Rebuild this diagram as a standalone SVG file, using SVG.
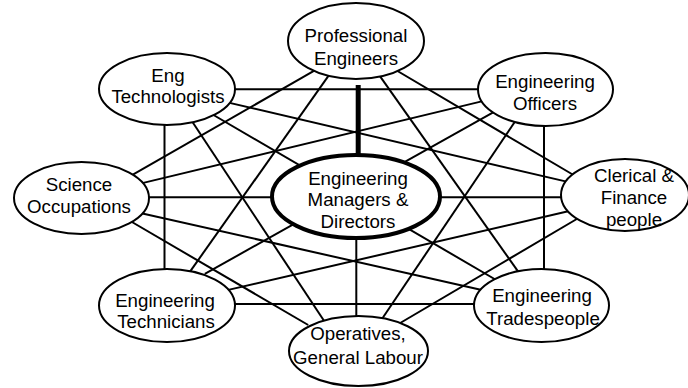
<svg xmlns="http://www.w3.org/2000/svg" width="688" height="388" viewBox="0 0 688 388">
<style>
.edge line{stroke:#000;stroke-width:2;fill:none}
.edge line.thick{stroke-width:5}
.node ellipse{fill:#fff;stroke:#000;stroke-width:2}
#center ellipse{stroke-width:4}
text{font-family:"Liberation Sans",Arial,sans-serif;font-size:18.7px;text-anchor:middle;fill:#000}
</style>
<rect width="688" height="388" fill="#fff"/>
<g id="connectors" class="edge">
<line x1="395.8" y1="70" x2="576.9" y2="177"/>
<line x1="378.5" y1="74.1" x2="520.5" y2="274.9"/>
<line x1="356.3" y1="238" x2="356.3" y2="320"/>
<line class="thick" x1="358.2" y1="85" x2="358.2" y2="156"/>
<line x1="330.2" y1="73.4" x2="186.5" y2="276.6"/>
<line x1="315.2" y1="70.2" x2="129.8" y2="176.3"/>
<line x1="544" y1="122" x2="544" y2="273"/>
<line x1="517.4" y1="118" x2="380.6" y2="321"/>
<line x1="497.2" y1="110.1" x2="204.8" y2="273.9"/>
<line x1="484.8" y1="100.6" x2="141.2" y2="183.4"/>
<line x1="230" y1="89.3" x2="483" y2="89.3"/>
<line x1="580.2" y1="217" x2="396.8" y2="325"/>
<line x1="572.5" y1="210.3" x2="226.2" y2="290.4"/>
<line x1="144" y1="197.3" x2="567" y2="197.3"/>
<line x1="224.2" y1="101.6" x2="569.8" y2="182.4"/>
<line x1="230" y1="304" x2="478" y2="304"/>
<line x1="139.1" y1="212.7" x2="482.9" y2="290.3"/>
<line x1="211.8" y1="114" x2="496.2" y2="280"/>
<line x1="126.8" y1="219" x2="308.2" y2="325"/>
<line x1="190" y1="118.3" x2="325" y2="322.3"/>
<line x1="164.5" y1="120" x2="164.5" y2="274"/>
</g>
<g id="professional-engineers" class="node">
<ellipse cx="356" cy="41" rx="68" ry="38"/>
<text x="356" y="42">Professional</text>
<text x="356" y="65">Engineers</text>
</g>
<g id="engineering-officers" class="node">
<ellipse cx="545.5" cy="89.5" rx="67.5" ry="36.5"/>
<text x="545" y="88">Engineering</text>
<text x="545" y="110">Officers</text>
</g>
<g id="clerical-finance" class="node">
<ellipse cx="625" cy="195" rx="64" ry="36"/>
<text x="634" y="182">Clerical &amp;</text>
<text x="634" y="204">Finance</text>
<text x="634" y="225.5">people</text>
</g>
<g id="engineering-tradespeople" class="node">
<ellipse cx="541.5" cy="305.5" rx="67.5" ry="36.5"/>
<text x="542" y="302">Engineering</text>
<text x="543" y="325">Tradespeople</text>
</g>
<g id="operatives" class="node">
<ellipse cx="358.5" cy="351" rx="69.5" ry="35"/>
<text x="358" y="340">Operatives,</text>
<text x="358" y="364">General Labour</text>
</g>
<g id="engineering-technicians" class="node">
<ellipse cx="167" cy="305.5" rx="68" ry="36.5"/>
<text x="165" y="307">Engineering</text>
<text x="166" y="328">Technicians</text>
</g>
<g id="science-occupations" class="node">
<ellipse cx="81.5" cy="198" rx="67.5" ry="36"/>
<text x="79" y="191">Science</text>
<text x="79" y="213">Occupations</text>
</g>
<g id="eng-technologists" class="node">
<ellipse cx="167" cy="89" rx="68" ry="36"/>
<text x="168" y="82">Eng</text>
<text x="168" y="103">Technologists</text>
</g>
<g id="center" class="node">
<ellipse cx="356" cy="196.5" rx="84" ry="41.5"/>
<text x="358" y="185">Engineering</text>
<text x="358" y="206">Managers &amp;</text>
<text x="358" y="228">Directors</text>
</g>
</svg>
